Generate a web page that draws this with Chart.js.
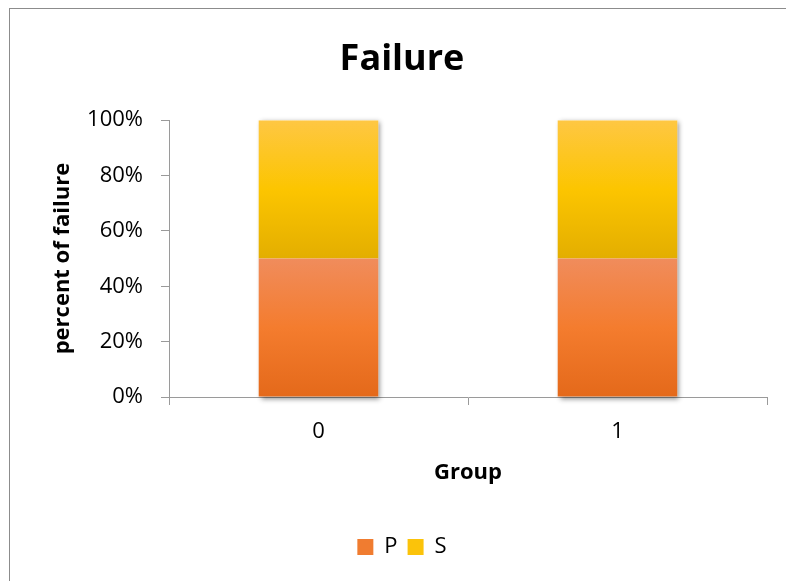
<!DOCTYPE html>
<html>
<head>
<meta charset="utf-8">
<script src="https://cdn.jsdelivr.net/npm/chart.js@4"></script>
<style>
  html, body { margin: 0; padding: 0; background: #fff; overflow: hidden; }
  #frame { position: absolute; left: 9px; top: 8px; width: 900px; height: 700px; border: 1px solid #8c8c8c; box-sizing: border-box; }
  #chart { position: absolute; left: 0; top: 0; }
</style>
</head>
<body>
<div id="frame"></div>
<canvas id="chart" width="804" height="581"></canvas>
<script>
// Categories and shares (percent of failure per group)
const groups = ['0', '1'];
const pShare = [50, 50];
const sShare = [50, 50];
const yTickValues = [0, 20, 40, 60, 80, 100];

const FONT = "'Open Sans', 'DejaVu Sans', sans-serif";

// Vertical gradient stops (top -> bottom) per series
const stopsP = ['#F08C5C', '#F47C2E', '#E4691A'];
const stopsS = ['#FEC743', '#FCC500', '#E3AE00'];
const solidP = '#F07C30';
const solidS = '#FBC30A';

function segmentGradient(ctx, stops, fallback) {
  const chart = ctx.chart;
  if (ctx.type !== 'data' || !chart.chartArea || !chart.scales.y) return fallback;
  const yScale = chart.scales.y;
  const ds = chart.data.datasets;
  let base = 0;
  for (let d = 0; d < ctx.datasetIndex; d++) base += ds[d].data[ctx.dataIndex];
  const top = base + ds[ctx.datasetIndex].data[ctx.dataIndex];
  const y0 = yScale.getPixelForValue(top);
  const y1 = yScale.getPixelForValue(base);
  const g = chart.ctx.createLinearGradient(0, y0, 0, y1);
  g.addColorStop(0, stops[0]);
  g.addColorStop(0.5, stops[1]);
  g.addColorStop(1, stops[2]);
  return g;
}

// Soft drop shadow behind each full stacked column
const stackShadow = {
  id: 'stackShadow',
  beforeDatasetsDraw(chart) {
    const ctx = chart.ctx;
    const first = chart.getDatasetMeta(0).data;
    const last = chart.getDatasetMeta(chart.data.datasets.length - 1).data;
    ctx.save();
    ctx.shadowColor = 'rgba(0,0,0,0.45)';
    ctx.shadowBlur = 5;
    ctx.shadowOffsetX = 2;
    ctx.shadowOffsetY = 2;
    ctx.fillStyle = '#ffffff';
    first.forEach((el, i) => {
      const topEl = last[i];
      const w = el.width;
      ctx.fillRect(el.x - w / 2, topEl.y, w, el.base - topEl.y);
    });
    ctx.restore();
  }
};

new Chart(document.getElementById('chart'), {
  type: 'bar',
  data: {
    labels: groups,
    datasets: [
      { label: 'P', data: pShare, backgroundColor: c => segmentGradient(c, stopsP, solidP),
        barPercentage: 0.4, categoryPercentage: 1 },
      { label: 'S', data: sShare, backgroundColor: c => segmentGradient(c, stopsS, solidS),
        barPercentage: 0.4, categoryPercentage: 1 }
    ]
  },
  options: {
    responsive: false,
    animation: false,
    devicePixelRatio: 1,
    layout: { padding: { top: 0, right: 37, bottom: 13, left: 37 } },
    plugins: {
      title: {
        display: true,
        text: 'Failure',
        color: '#000',
        font: { family: FONT, size: 36, weight: 'bold', lineHeight: 1.2 },
        padding: { top: 38, bottom: 39 }
      },
      legend: {
        position: 'bottom',
        labels: {
          color: '#000',
          font: { family: FONT, size: 22 },
          boxWidth: 16,
          boxHeight: 16,
          padding: 10,
          generateLabels: chart => chart.data.datasets.map((ds, i) => ({
            text: ds.label,
            fillStyle: i === 0 ? solidP : solidS,
            strokeStyle: 'rgba(0,0,0,0)',
            lineWidth: 0,
            datasetIndex: i
          }))
        }
      },
      tooltip: { enabled: false }
    },
    scales: {
      x: {
        stacked: true,
        afterFit: s => { s.height = 129; },
        grid: { display: true, offset: true, drawOnChartArea: false, drawTicks: true, tickLength: 8, color: '#9a9a9a' },
        border: { display: true, color: '#9a9a9a', width: 1 },
        ticks: { color: '#000', font: { family: FONT, size: 22 }, padding: 14, maxRotation: 0 },
        title: {
          display: true, text: 'Group', color: '#000',
          font: { family: FONT, size: 22, weight: 'bold', lineHeight: 1.2 },
          padding: { top: 0, bottom: 40 }
        }
      },
      y: {
        stacked: true,
        min: 0,
        max: 100,
        afterFit: s => { s.width = 132; },
        afterBuildTicks: s => { s.ticks = yTickValues.map(v => ({ value: v })); },
        grid: { display: true, drawOnChartArea: false, drawTicks: true, tickLength: 8, color: '#9a9a9a' },
        border: { display: true, color: '#9a9a9a', width: 1 },
        ticks: { color: '#000', font: { family: FONT, size: 22 }, padding: 18, callback: v => v + '%' },
        title: {
          display: true, text: 'percent of failure', color: '#000',
          font: { family: FONT, size: 22, weight: 'bold', lineHeight: 1.2 },
          padding: { top: 13, bottom: 0 }
        }
      }
    }
  },
  plugins: [stackShadow]
});
</script>
</body>
</html>
